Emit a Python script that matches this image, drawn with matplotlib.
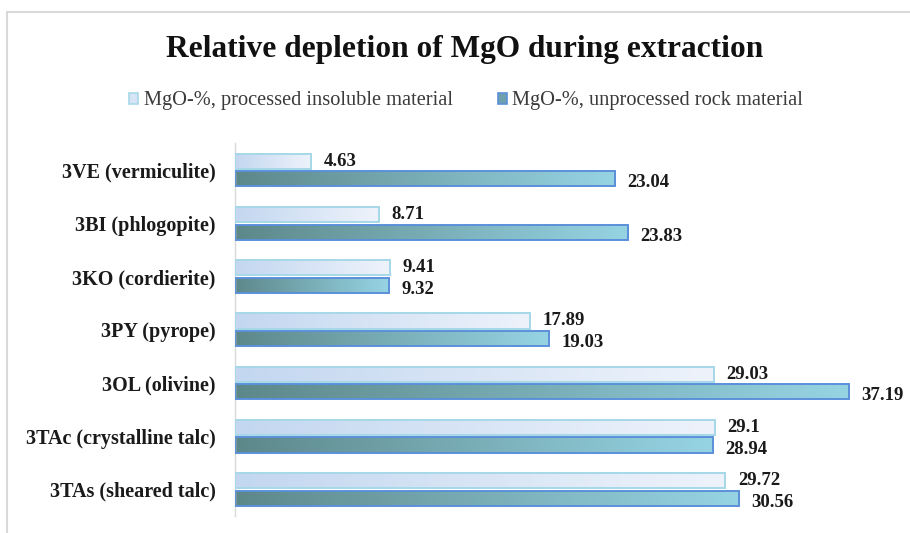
import numpy as np
import matplotlib.pyplot as plt
from matplotlib.patches import Rectangle, Patch
from matplotlib.colors import LinearSegmentedColormap

plt.rcParams['font.family'] = ['Liberation Serif', 'DejaVu Serif']

categories = ["3VE (vermiculite)", "3BI (phlogopite)", "3KO (cordierite)",
              "3PY (pyrope)", "3OL (olivine)", "3TAc (crystalline talc)",
              "3TAs (sheared talc)"]
processed = [4.63, 8.71, 9.41, 17.89, 29.03, 29.1, 29.72]
unprocessed = [23.04, 23.83, 9.32, 19.03, 37.19, 28.94, 30.56]
series_names = ["MgO-%, processed insoluble material",
                "MgO-%, unprocessed rock material"]

W, H = 910, 533
fig = plt.figure(figsize=(W / 100, H / 100), dpi=100)
fig.patch.set_facecolor('white')

# light chart-area frame (open towards right/bottom)
fig.add_artist(Rectangle((7 / W, -0.1), 1.2, 1.1 - 12 / H,
                         transform=fig.transFigure, fill=False,
                         edgecolor='#d9d9d9', lw=1.5, zorder=0))

ax_left, ax_right = 235 / W, 895 / W
ax_top, ax_bot = 1 - 143.5 / H, 1 - 516 / H
ax = fig.add_axes([ax_left, ax_bot, ax_right - ax_left, ax_top - ax_bot])

y = np.arange(len(categories))
off, h = 0.165, 0.285

cmap_p = LinearSegmentedColormap.from_list('p', ['#c3d7f0', '#eef3fb'])
cmap_u = LinearSegmentedColormap.from_list('u', ['#5d888a', '#96d4e4'])
grad = np.linspace(0, 1, 256).reshape(1, -1)


def gradient_bars(ypos, vals, cmap, edge, lw):
    bars = ax.barh(ypos, vals, height=h, facecolor='none', edgecolor=edge,
                   linewidth=lw, zorder=3)
    for b in bars:
        x0, y0 = b.get_x(), b.get_y()
        w, hh = b.get_width(), b.get_height()
        im = ax.imshow(grad, cmap=cmap, aspect='auto',
                       extent=[x0, x0 + w, y0 + hh, y0], zorder=2,
                       interpolation='bilinear')
        im.set_clip_path(b)
    return bars


gradient_bars(y - off, processed, cmap_p, '#a6d8e8', 1.4)
gradient_bars(y + off, unprocessed, cmap_u, '#5b90da', 1.4)
ax.set_xlim(0, 40)
ax.set_ylim(6.5, -0.5)

# value labels at the bar ends (pairs nudged slightly apart)
val_fs = 13.5
for yi, v in zip(y - off, processed):
    ax.annotate(f"{v:g}", (v, yi), xytext=(9, 1.5), textcoords='offset points',
                ha='left', va='center_baseline', fontsize=val_fs,
                fontweight='bold', color='#1a1a1a')
for yi, v in zip(y + off, unprocessed):
    ax.annotate(f"{v:g}", (v, yi), xytext=(9, -1.5), textcoords='offset points',
                ha='left', va='center_baseline', fontsize=val_fs,
                fontweight='bold', color='#1a1a1a')

ax.set_yticks(y)
ax.set_yticklabels(categories, fontsize=14.5, fontweight='bold',
                   color='#1a1a1a')
ax.tick_params(axis='y', length=0, pad=14)
ax.set_xticks([])
for s in ['top', 'right', 'bottom']:
    ax.spines[s].set_visible(False)
ax.spines['left'].set_color('#d9d9d9')
ax.spines['left'].set_linewidth(1.0)
ax.patch.set_alpha(0)

fig.text(465 / W, 1 - 49 / H, "Relative depletion of MgO during extraction",
         ha='center', va='center', fontsize=22.6, fontweight='bold',
         color='#111111')

handles = [Patch(facecolor='#d6e4f5', edgecolor='#a6d8e8', lw=1.2),
           Patch(facecolor='#6fa0ad', edgecolor='#5b90da', lw=1.2)]
fig.legend(handles, series_names, loc='center', ncol=2,
           bbox_to_anchor=(466 / W, 1 - 101 / H), frameon=False,
           fontsize=14.7, handlelength=0.45, handleheight=0.45,
           handletextpad=0.25, columnspacing=2.2, labelcolor='#3a3a3a')

fig.savefig('out.png', dpi=100)
